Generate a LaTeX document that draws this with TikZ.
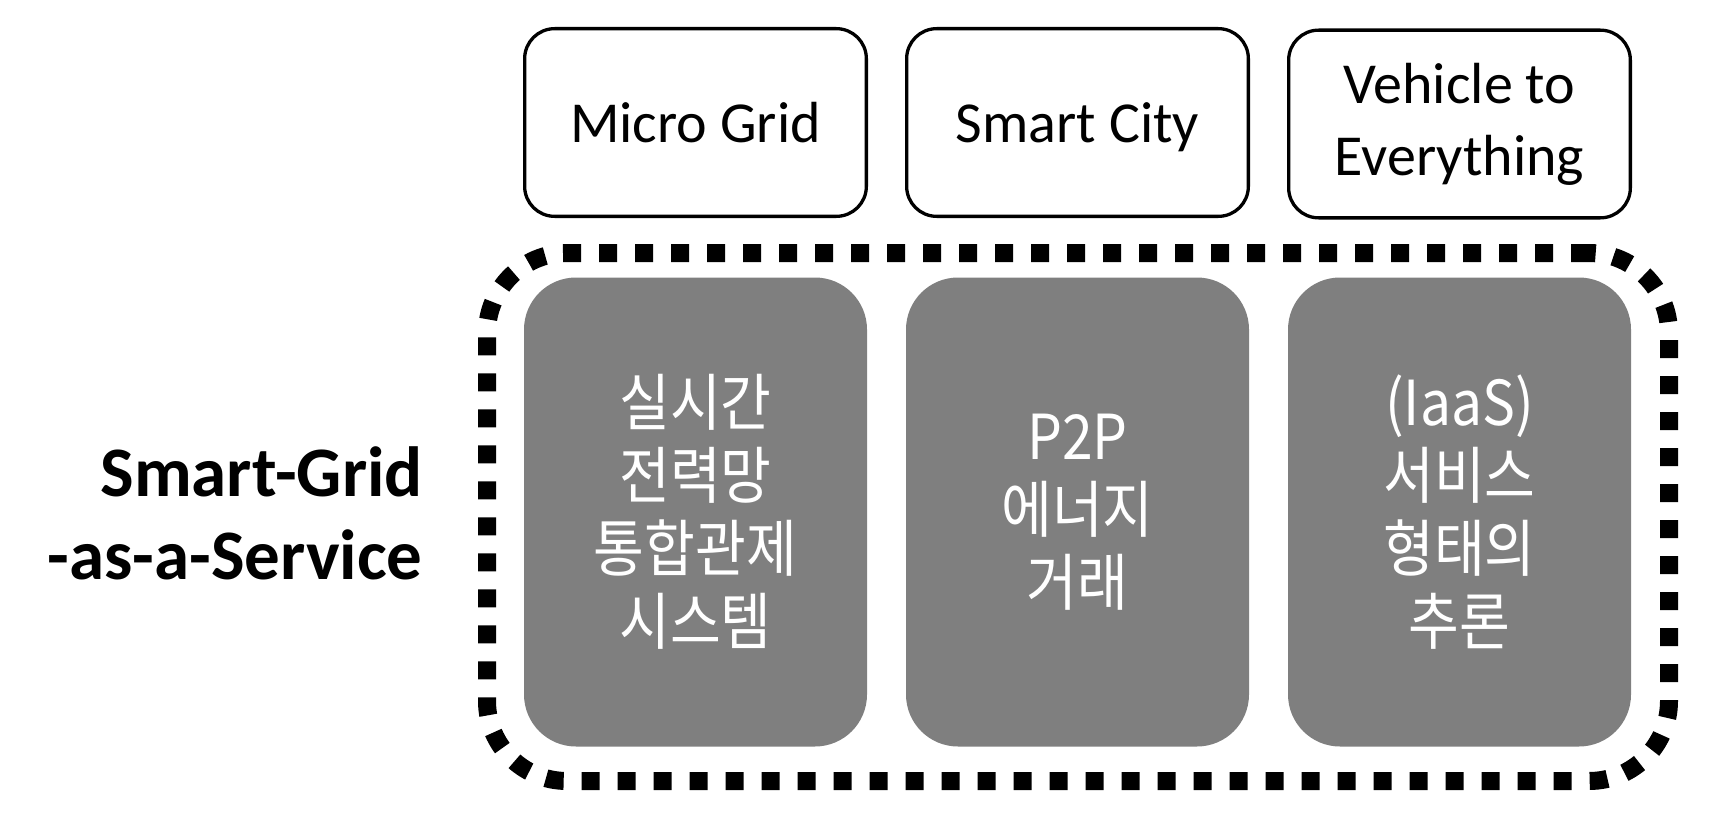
\documentclass[tikz,border=0pt]{standalone}
\usepackage{fontspec}
\setmainfont{Carlito}
\newfontfamily\krfont[FakeStretch=0.89]{Noto Sans CJK KR}
\definecolor{boxgrey}{RGB}{127,127,127}
\begin{document}
\begin{tikzpicture}[x=1pt,y=-1pt,
  topbox/.style={draw=black, line width=3.3pt, rounded corners=30pt, fill=white,
    minimum width=341.7pt, minimum height=187.7pt, inner sep=0pt, align=center,
    font=\fontsize{58}{72}\selectfont},
  greybox/.style={fill=boxgrey, rounded corners=52pt,
    minimum width=343pt, minimum height=469pt, inner sep=0pt, align=center,
    text=white, font=\krfont\fontsize{62}{73}\selectfont},
  dashframe/.style={draw=black, line width=18pt, dash pattern=on 18pt off 18pt,
    rounded corners=80pt, minimum width=1182pt, minimum height=528pt, inner sep=0pt},
  sidelabel/.style={align=right, inner sep=0pt,
    font=\bfseries\fontsize{71}{83}\selectfont}
]
\useasboundingbox (0,0) rectangle (1714,816);
\node[dashframe] (frame) at (1078,517) {};
\node[topbox] (mg) at (695.5,122.5) {Micro Grid};
\node[topbox, text depth=0pt] (sc) at (1077.5,122.5) {Smart City};
\node[topbox] (vx) at (1459.5,124) {Vehicle to\\Everything};
\node[greybox] (g1) at (695.5,512) {실시간\\전력망\\통합관제\\시스템};
\node[greybox] (g2) at (1077.5,512) {P2P\\에너지\\거래};
\node[greybox] (g3) at (1459.5,512) {(IaaS)\\서비스\\형태의\\추론};
\node[sidelabel, anchor=east] (sgaas) at (423,513) {Smart-Grid\\-as-a-Service};
\end{tikzpicture}
\end{document}
